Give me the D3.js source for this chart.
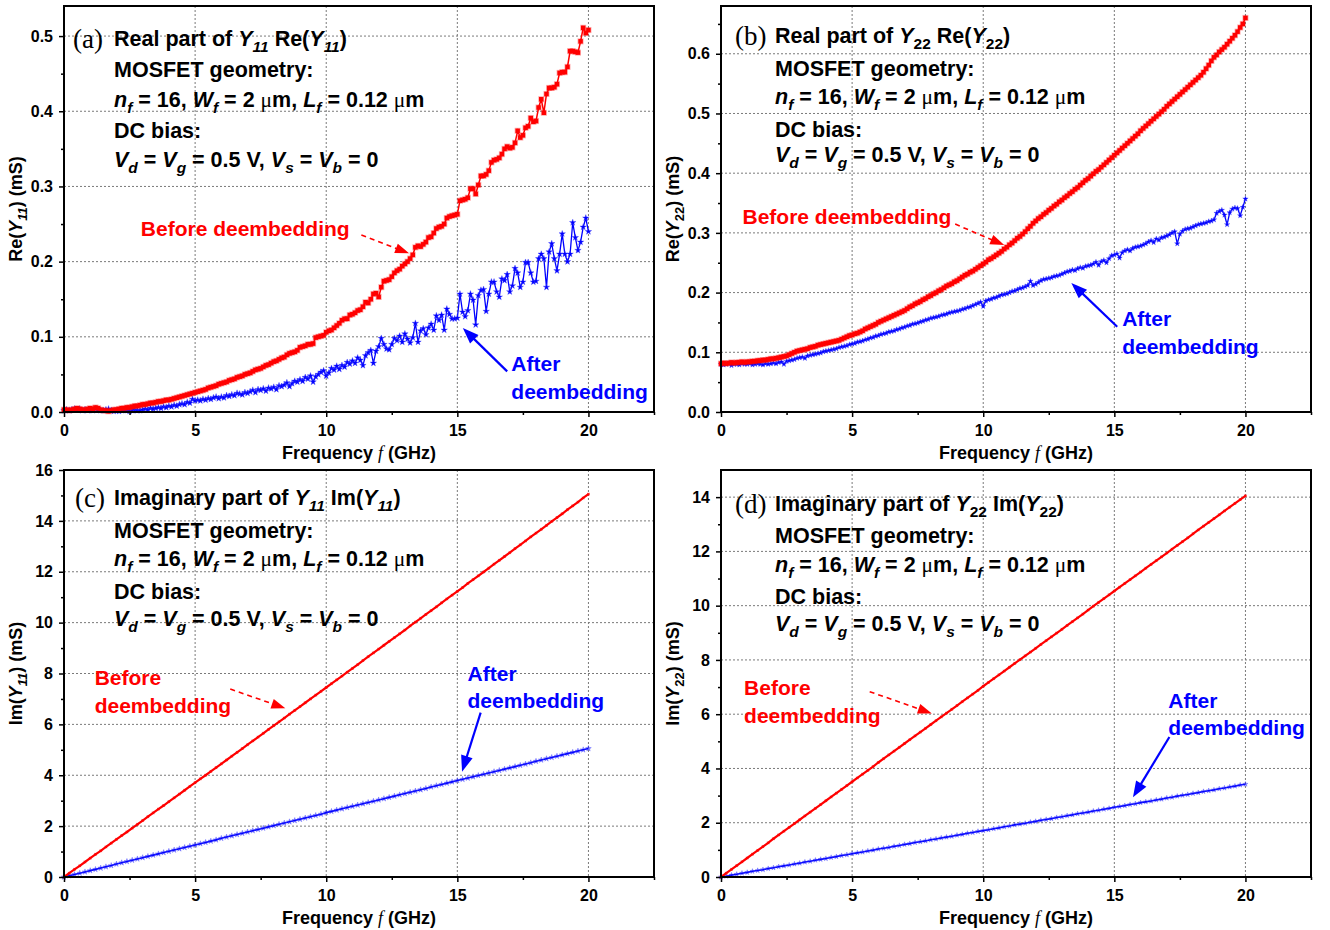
<!DOCTYPE html>
<html>
<head>
<meta charset="utf-8">
<script src="https://cdn.jsdelivr.net/npm/d3@7/dist/d3.min.js"></script>
<style>
  body { margin: 0; background: #fff; }
  svg text { font-family: "Liberation Sans", Arial, sans-serif; font-weight: bold; }
</style>
</head>
<body>
<div id="chart"></div>
<script>
// frequency sweeps (GHz)
var freq = d3.range(0, 201).map(function(i) { return i / 10; });   // 0.1 GHz steps
var freqIm = d3.range(0, 101).map(function(i) { return i / 5; });  // 0.2 GHz steps

var freqTicks = [0, 5, 10, 15, 20];
var freqMinor = [2.5, 7.5, 12.5, 17.5, 22.5];

// (a) Re(Y11), mS
var reY11Before = [
  0.003,0.003,0.002,0.003,0.004,0.005,0.004,0.003,0.003,0.004,
  0.005,0.004,0.006,0.005,0.003,0.002,0.002,0.001,0.002,0.003,
  0.003,0.004,0.005,0.005,0.006,0.006,0.007,0.008,0.008,0.009,
  0.010,0.010,0.011,0.012,0.012,0.013,0.014,0.014,0.015,0.016,
  0.016,0.017,0.018,0.019,0.020,0.021,0.022,0.023,0.024,0.025,
  0.026,0.027,0.028,0.029,0.030,0.032,0.033,0.034,0.035,0.037,
  0.038,0.039,0.040,0.042,0.043,0.044,0.046,0.047,0.048,0.050,
  0.051,0.052,0.054,0.056,0.057,0.058,0.060,0.062,0.063,0.065,
  0.067,0.068,0.070,0.072,0.073,0.076,0.078,0.079,0.080,0.082,
  0.086,0.087,0.088,0.090,0.090,0.091,0.099,0.100,0.101,0.102,
  0.106,0.108,0.109,0.112,0.115,0.118,0.122,0.124,0.124,0.129,
  0.130,0.132,0.135,0.136,0.140,0.146,0.145,0.150,0.157,0.158,
  0.153,0.166,0.174,0.175,0.176,0.180,0.185,0.188,0.190,0.194,
  0.197,0.200,0.204,0.209,0.219,0.221,0.220,0.223,0.226,0.232,
  0.233,0.238,0.244,0.246,0.247,0.250,0.258,0.260,0.261,0.262,
  0.263,0.281,0.282,0.283,0.285,0.297,0.297,0.290,0.302,0.314,
  0.314,0.316,0.321,0.332,0.335,0.336,0.338,0.343,0.350,0.353,
  0.351,0.352,0.358,0.374,0.365,0.368,0.378,0.380,0.391,0.386,
  0.387,0.405,0.416,0.398,0.423,0.431,0.431,0.432,0.436,0.451,
  0.452,0.452,0.459,0.480,0.480,0.479,0.478,0.493,0.511,0.504,
  0.508
];
var reY11After = [
  0.002,0.003,0.002,0.003,0.004,0.003,0.004,0.002,0.003,0.002,
  0.003,0.002,0.004,0.003,0.002,0.002,0.003,0.004,0.002,0.001,
  0.002,0.001,0.002,0.003,0.002,0.001,0.002,0.003,0.002,0.002,
  0.003,0.004,0.003,0.005,0.004,0.005,0.006,0.005,0.007,0.006,
  0.008,0.007,0.009,0.008,0.010,0.011,0.010,0.013,0.012,0.017,
  0.015,0.016,0.015,0.017,0.016,0.018,0.017,0.019,0.020,0.018,
  0.020,0.019,0.022,0.021,0.023,0.022,0.025,0.024,0.023,0.026,
  0.025,0.027,0.029,0.026,0.030,0.029,0.031,0.028,0.032,0.031,
  0.033,0.030,0.035,0.034,0.036,0.039,0.034,0.038,0.041,0.040,
  0.043,0.041,0.046,0.044,0.048,0.040,0.047,0.050,0.053,0.055,
  0.048,0.052,0.058,0.056,0.061,0.057,0.062,0.060,0.066,0.064,
  0.068,0.065,0.072,0.069,0.062,0.075,0.079,0.082,0.065,0.081,
  0.087,0.098,0.090,0.084,0.083,0.090,0.098,0.095,0.101,0.093,
  0.104,0.097,0.092,0.099,0.118,0.093,0.108,0.111,0.103,0.112,
  0.117,0.109,0.128,0.122,0.129,0.109,0.137,0.130,0.124,0.124,
  0.125,0.157,0.133,0.127,0.135,0.157,0.149,0.116,0.155,0.162,
  0.163,0.134,0.157,0.173,0.173,0.160,0.153,0.177,0.175,0.183,
  0.160,0.168,0.191,0.185,0.166,0.173,0.199,0.199,0.185,0.173,
  0.174,0.204,0.210,0.204,0.166,0.213,0.224,0.204,0.188,0.210,
  0.237,0.210,0.200,0.210,0.252,0.232,0.215,0.226,0.246,0.258,
  0.240
];

// (b) Re(Y22), mS
var reY22Before = [
  0.081,0.082,0.081,0.082,0.083,0.082,0.083,0.083,0.084,0.083,
  0.084,0.084,0.085,0.085,0.086,0.086,0.087,0.087,0.088,0.089,
  0.089,0.090,0.091,0.092,0.093,0.094,0.096,0.098,0.100,0.102,
  0.103,0.104,0.105,0.106,0.108,0.109,0.110,0.112,0.113,0.114,
  0.115,0.116,0.117,0.118,0.119,0.120,0.122,0.124,0.126,0.128,
  0.129,0.131,0.132,0.134,0.136,0.139,0.141,0.143,0.145,0.147,
  0.150,0.152,0.154,0.156,0.158,0.160,0.162,0.164,0.166,0.168,
  0.170,0.173,0.176,0.178,0.181,0.183,0.185,0.188,0.190,0.193,
  0.195,0.198,0.200,0.203,0.205,0.208,0.211,0.213,0.215,0.218,
  0.220,0.223,0.226,0.229,0.231,0.234,0.236,0.239,0.242,0.245,
  0.248,0.251,0.255,0.257,0.260,0.263,0.266,0.269,0.273,0.276,
  0.280,0.283,0.287,0.291,0.294,0.298,0.302,0.307,0.311,0.316,
  0.320,0.324,0.327,0.331,0.334,0.338,0.341,0.345,0.348,0.352,
  0.355,0.359,0.362,0.366,0.369,0.373,0.376,0.380,0.384,0.388,
  0.391,0.395,0.399,0.403,0.406,0.410,0.414,0.418,0.422,0.426,
  0.430,0.434,0.438,0.442,0.446,0.450,0.454,0.458,0.462,0.466,
  0.471,0.475,0.479,0.483,0.487,0.491,0.495,0.499,0.503,0.507,
  0.512,0.516,0.520,0.524,0.528,0.532,0.536,0.540,0.544,0.548,
  0.552,0.556,0.560,0.564,0.569,0.575,0.581,0.588,0.594,0.598,
  0.603,0.607,0.611,0.616,0.621,0.626,0.631,0.637,0.644,0.650,
  0.660
];
var reY22After = [
  0.080,0.079,0.080,0.081,0.078,0.080,0.080,0.079,0.081,0.080,
  0.080,0.081,0.079,0.080,0.081,0.080,0.079,0.081,0.080,0.081,
  0.082,0.081,0.083,0.084,0.080,0.085,0.086,0.087,0.088,0.090,
  0.091,0.092,0.090,0.094,0.095,0.096,0.097,0.098,0.099,0.101,
  0.102,0.103,0.104,0.105,0.106,0.108,0.109,0.110,0.111,0.113,
  0.114,0.115,0.117,0.118,0.119,0.121,0.122,0.124,0.125,0.127,
  0.128,0.130,0.131,0.132,0.134,0.135,0.136,0.138,0.139,0.141,
  0.142,0.144,0.145,0.147,0.148,0.149,0.151,0.152,0.154,0.155,
  0.157,0.158,0.159,0.160,0.162,0.163,0.164,0.166,0.167,0.168,
  0.169,0.170,0.172,0.173,0.175,0.176,0.178,0.180,0.182,0.184,
  0.177,0.186,0.188,0.189,0.191,0.192,0.194,0.196,0.197,0.198,
  0.200,0.202,0.203,0.205,0.207,0.208,0.210,0.212,0.219,0.212,
  0.214,0.217,0.220,0.222,0.223,0.224,0.225,0.227,0.228,0.229,
  0.231,0.233,0.235,0.236,0.238,0.237,0.240,0.242,0.241,0.244,
  0.245,0.246,0.248,0.251,0.246,0.252,0.254,0.250,0.257,0.262,
  0.263,0.265,0.258,0.267,0.270,0.272,0.270,0.274,0.276,0.277,
  0.278,0.280,0.282,0.285,0.287,0.284,0.290,0.288,0.292,0.293,
  0.295,0.297,0.300,0.302,0.282,0.298,0.303,0.306,0.307,0.308,
  0.310,0.312,0.314,0.315,0.316,0.317,0.319,0.320,0.322,0.333,
  0.336,0.338,0.330,0.314,0.334,0.340,0.342,0.341,0.329,0.343,
  0.357
];

// (c) Im(Y11), mS
var imY11Before = [
  0.00,0.15,0.30,0.44,0.59,0.74,0.89,1.03,1.18,1.33,
  1.48,1.63,1.77,1.92,2.07,2.22,2.37,2.52,2.67,2.81,
  2.96,3.11,3.26,3.41,3.56,3.71,3.86,4.00,4.15,4.30,
  4.45,4.60,4.75,4.90,5.05,5.20,5.35,5.50,5.65,5.80,
  5.95,6.10,6.25,6.40,6.55,6.70,6.85,7.00,7.15,7.30,
  7.45,7.60,7.75,7.90,8.05,8.20,8.35,8.51,8.66,8.81,
  8.96,9.11,9.26,9.41,9.56,9.71,9.87,10.02,10.17,10.32,
  10.47,10.62,10.78,10.93,11.08,11.23,11.38,11.54,11.69,11.84,
  11.99,12.14,12.30,12.45,12.60,12.75,12.91,13.06,13.21,13.37,
  13.52,13.67,13.82,13.98,14.13,14.28,14.44,14.59,14.74,14.90,
  15.05
];
var imY11After = [
  0.00,0.05,0.10,0.15,0.20,0.25,0.30,0.35,0.40,0.45,
  0.51,0.56,0.61,0.66,0.71,0.76,0.81,0.86,0.91,0.96,
  1.01,1.06,1.11,1.16,1.21,1.26,1.31,1.36,1.41,1.46,
  1.52,1.57,1.62,1.67,1.72,1.77,1.82,1.87,1.92,1.97,
  2.02,2.07,2.12,2.17,2.22,2.27,2.32,2.37,2.42,2.47,
  2.53,2.58,2.63,2.68,2.73,2.78,2.83,2.88,2.93,2.98,
  3.03,3.08,3.13,3.18,3.23,3.28,3.33,3.38,3.43,3.48,
  3.54,3.59,3.64,3.69,3.74,3.79,3.84,3.89,3.94,3.99,
  4.04,4.09,4.14,4.19,4.24,4.29,4.34,4.39,4.44,4.49,
  4.55,4.60,4.65,4.70,4.75,4.80,4.85,4.90,4.95,5.00,
  5.05
];

// (d) Im(Y22), mS
var imY22Before = [
  0.00,0.14,0.28,0.42,0.56,0.70,0.84,0.98,1.12,1.26,
  1.41,1.55,1.69,1.83,1.97,2.11,2.25,2.39,2.53,2.67,
  2.81,2.95,3.09,3.23,3.37,3.51,3.65,3.79,3.93,4.07,
  4.22,4.36,4.50,4.64,4.78,4.92,5.06,5.20,5.34,5.48,
  5.62,5.76,5.90,6.04,6.18,6.32,6.46,6.60,6.74,6.88,
  7.03,7.17,7.31,7.45,7.59,7.73,7.87,8.01,8.15,8.29,
  8.43,8.57,8.71,8.85,8.99,9.13,9.27,9.41,9.55,9.69,
  9.84,9.98,10.12,10.26,10.40,10.54,10.68,10.82,10.96,11.10,
  11.24,11.38,11.52,11.66,11.80,11.94,12.08,12.22,12.36,12.50,
  12.65,12.79,12.93,13.07,13.21,13.35,13.49,13.63,13.77,13.91,
  14.05
];
var imY22After = [
  0.00,0.03,0.07,0.10,0.14,0.17,0.21,0.24,0.27,0.31,
  0.34,0.38,0.41,0.44,0.48,0.51,0.55,0.58,0.62,0.65,
  0.68,0.72,0.75,0.79,0.82,0.86,0.89,0.92,0.96,0.99,
  1.03,1.06,1.09,1.13,1.16,1.20,1.23,1.27,1.30,1.33,
  1.37,1.40,1.44,1.47,1.50,1.54,1.57,1.61,1.64,1.68,
  1.71,1.74,1.78,1.81,1.85,1.88,1.92,1.95,1.98,2.02,
  2.05,2.09,2.12,2.15,2.19,2.22,2.26,2.29,2.33,2.36,
  2.39,2.43,2.46,2.50,2.53,2.57,2.60,2.63,2.67,2.70,
  2.74,2.77,2.80,2.84,2.87,2.91,2.94,2.98,3.01,3.04,
  3.08,3.11,3.15,3.18,3.21,3.25,3.28,3.32,3.35,3.39,
  3.42
];

// y tick labels
var reTicksA = [0, 0.1, 0.2, 0.3, 0.4, 0.5];
var reMinorA = [0.05, 0.15, 0.25, 0.35, 0.45];
var reTicksB = [0, 0.1, 0.2, 0.3, 0.4, 0.5, 0.6];
var reMinorB = [0.05, 0.15, 0.25, 0.35, 0.45, 0.55, 0.65];
var imTicksC = [0, 2, 4, 6, 8, 10, 12, 14, 16];
var imMinorC = [1, 3, 5, 7, 9, 11, 13, 15];
var imTicksD = [0, 2, 4, 6, 8, 10, 12, 14];
var imMinorD = [1, 3, 5, 7, 9, 11, 13];

var RED = "#ff0000", BLUE = "#0000ff";

function headerLines(sub, subStyle, kind) {
  var first = kind === "re"
    ? [["Real part of "], ["Y", "i"], [sub, subStyle], [" Re("], ["Y", "i"], [sub, subStyle], [")"]]
    : [["Imaginary part of "], ["Y", "i"], [sub, subStyle], [" Im("], ["Y", "i"], [sub, subStyle], [")"]];
  return [
    first,
    [["MOSFET geometry:"]],
    [["n", "i"], ["f", "is"], [" = 16, "], ["W", "i"], ["f", "is"], [" = 2 "], ["\u03bc", "m"], ["m, "],
     ["L", "i"], ["f", "is"], [" = 0.12 "], ["\u03bc", "m"], ["m"]],
    [["DC bias:"]],
    [["V", "i"], ["d", "is"], [" = "], ["V", "i"], ["g", "is"], [" = 0.5 V, "], ["V", "i"], ["s", "is"],
     [" = "], ["V", "i"], ["b", "is"], [" = 0"]]
  ];
}

var panels = [
  { tag: "(a)", left: 64, top: 6, width: 590, height: 406, yMax: 0.54,
    yTicks: reTicksA, yMinor: reMinorA, yFmt: d3.format(".1f"),
    fx: freq, before: reY11Before, after: reY11After, style: "re", starSize: 13,
    yLabel: [["Re("], ["Y", "i"], ["11", "is"], [") (mS)"]],
    header: headerLines("11", "is", "re"), tagX: 9, textX: 50, lines: [40, 71, 101, 132, 161],
    beforeLabel: { f: 2.93, v: 0.2347, text: ["Before deembedding"] },
    afterLabel: { f: 17.06, v: 0.0544, v2: 0.0172, text: ["After", "deembedding"] },
    redArrow: [[11.34, 0.2354], [13.16, 0.211]], blueArrow: [[16.9, 0.054], [15.21, 0.1117]] },
  { tag: "(b)", left: 721, top: 6, width: 590, height: 406, yMax: 0.68,
    yTicks: reTicksB, yMinor: reMinorB, yFmt: d3.format(".1f"),
    fx: freq, before: reY22Before, after: reY22After, style: "re", starSize: 9,
    yLabel: [["Re("], ["Y", "i"], ["22", "s"], [") (mS)"]],
    header: headerLines("22", "s", "re"), tagX: 14, textX: 54, lines: [37, 70, 98, 131, 156],
    beforeLabel: { f: 0.82, v: 0.3147, text: ["Before deembedding"] },
    afterLabel: { f: 15.3, v: 0.1436, v2: 0.0977, text: ["After", "deembedding"] },
    redArrow: [[8.93, 0.3147], [10.80, 0.2796]], blueArrow: [[15.11, 0.1427], [13.36, 0.2162]] },
  { tag: "(c)", left: 64, top: 470, width: 590, height: 407, yMax: 16,
    yTicks: imTicksC, yMinor: imMinorC, yFmt: d3.format("d"),
    fx: freqIm, before: imY11Before, after: imY11After, style: "im", starSize: 10,
    yLabel: [["Im("], ["Y", "i"], ["11", "is"], [") (mS)"]],
    header: headerLines("11", "is", "im"), tagX: 11, textX: 50, lines: [35, 68, 96, 129, 156],
    beforeLabel: { f: 1.17, v: 7.53, v2: 6.45, text: ["Before", "deembedding"] },
    afterLabel: { f: 15.39, v: 7.72, v2: 6.66, text: ["After", "deembedding"] },
    redArrow: [[6.34, 7.39], [8.44, 6.63]], blueArrow: [[15.89, 6.46], [15.18, 4.14]] },
  { tag: "(d)", left: 721, top: 470, width: 590, height: 407, yMax: 15,
    yTicks: imTicksD, yMinor: imMinorD, yFmt: d3.format("d"),
    fx: freqIm, before: imY22Before, after: imY22After, style: "im", starSize: 8,
    yLabel: [["Im("], ["Y", "i"], ["22", "s"], [") (mS)"]],
    header: headerLines("22", "s", "im"), tagX: 14, textX: 54, lines: [41, 73, 102, 134, 161],
    beforeLabel: { f: 0.88, v: 6.69, v2: 5.68, text: ["Before", "deembedding"] },
    afterLabel: { f: 17.06, v: 6.23, v2: 5.22, text: ["After", "deembedding"] },
    redArrow: [[5.67, 6.83], [8.04, 6.03]], blueArrow: [[17.10, 5.16], [15.71, 2.94]] }
];

var svg = d3.select("#chart").append("svg")
  .attr("width", 1330)
  .attr("height", 930)
  .style("background", "#fff");

// write a run of styled pieces into a text element
// i = italic, s = subscript, m = serif upright (mu), t = serif italic
function rich(textSel, parts, fs) {
  var off = 0;
  parts.forEach(function(p) {
    var st = p[1] || "";
    var sub = st.indexOf("s") >= 0;
    var target = sub ? fs * 0.3 : 0;
    var t = textSel.append("tspan").text(p[0]);
    if (target - off !== 0) t.attr("dy", target - off);
    off = target;
    if (sub) t.attr("font-size", fs * 0.72);
    if (st.indexOf("i") >= 0) t.attr("font-style", "italic");
    if (st.indexOf("m") >= 0) t.style("font-family", "'Liberation Serif', serif").style("font-weight", "normal");
    if (st.indexOf("t") >= 0) t.style("font-family", "'Liberation Serif', serif").style("font-weight", "normal").attr("font-style", "italic");
  });
}

function arrow(g, x, y, pts, color, dashed, headLen, headHalf) {
  var x0 = x(pts[0][0]), y0 = y(pts[0][1]), x1 = x(pts[1][0]), y1 = y(pts[1][1]);
  var dx = x1 - x0, dy = y1 - y0, len = Math.sqrt(dx * dx + dy * dy);
  var ux = dx / len, uy = dy / len, nx = -uy, ny = ux;
  var bx = x1 - ux * headLen, by = y1 - uy * headLen;
  g.append("line")
    .attr("x1", x0).attr("y1", y0)
    .attr("x2", x1 - ux * headLen * 0.7).attr("y2", y1 - uy * headLen * 0.7)
    .attr("stroke", color)
    .attr("stroke-width", dashed ? 1.6 : 2.2)
    .attr("stroke-dasharray", dashed ? "5,4" : null);
  g.append("path")
    .attr("d", "M" + x1 + "," + y1 + "L" + (bx + nx * headHalf) + "," + (by + ny * headHalf) +
               "L" + (bx - nx * headHalf) + "," + (by - ny * headHalf) + "Z")
    .attr("fill", color);
}

function drawPanel(p) {
  var g = svg.append("g")
    .attr("transform", "translate(" + p.left + "," + p.top + ")");

  var x = d3.scaleLinear().domain([0, 22.5]).range([0, p.width]);
  var y = d3.scaleLinear().domain([0, p.yMax]).range([p.height, 0]);

  // dotted grid at major ticks
  g.append("g").selectAll("line")
    .data(freqTicks.slice(1))
    .enter().append("line")
      .attr("x1", function(d) { return x(d); })
      .attr("x2", function(d) { return x(d); })
      .attr("y1", 0).attr("y2", p.height)
      .attr("stroke", "#7a7a7a").attr("stroke-width", 1).attr("stroke-dasharray", "2,2");
  g.append("g").selectAll("line")
    .data(p.yTicks.slice(1))
    .enter().append("line")
      .attr("x1", 0).attr("x2", p.width)
      .attr("y1", function(d) { return y(d); })
      .attr("y2", function(d) { return y(d); })
      .attr("stroke", "#7a7a7a").attr("stroke-width", 1).attr("stroke-dasharray", "2,2");

  var line = d3.line()
    .x(function(d, i) { return x(p.fx[i]); })
    .y(function(d) { return y(d); });

  var re = p.style === "re";

  // after deembedding (blue, stars)
  g.append("path")
    .attr("d", line(p.after))
    .attr("fill", "none")
    .attr("stroke", BLUE)
    .attr("stroke-width", re ? 1.3 : 1.6);
  var star = d3.symbol().type(d3.symbolStar).size(p.starSize);
  g.append("g").selectAll("path")
    .data(p.after)
    .enter().append("path")
      .attr("d", star)
      .attr("transform", function(d, i) { return "translate(" + x(p.fx[i]) + "," + y(d) + ")"; })
      .attr("fill", re ? BLUE : "rgba(0,0,255,0.45)")
      .attr("stroke", "rgba(60,60,255,0.35)")
      .attr("stroke-width", 1);

  // before deembedding (red, squares)
  g.append("path")
    .attr("d", line(p.before))
    .attr("fill", "none")
    .attr("stroke", RED)
    .attr("stroke-width", re ? 1.5 : 2.2);
  var sq = re ? 4.5 : 2;
  g.append("g").selectAll("rect")
    .data(p.before)
    .enter().append("rect")
      .attr("x", function(d, i) { return x(p.fx[i]) - sq / 2; })
      .attr("y", function(d) { return y(d) - sq / 2; })
      .attr("width", sq).attr("height", sq)
      .attr("fill", RED)
      .attr("stroke", "rgba(255,0,0,0.3)")
      .attr("stroke-width", re ? 1.6 : 1);

  // axes
  g.append("g")
    .attr("transform", "translate(0," + p.height + ")")
    .call(d3.axisBottom(x).tickValues(freqTicks).tickSize(5).tickPadding(8).tickFormat(d3.format("d")));
  g.append("g")
    .attr("transform", "translate(0," + p.height + ")")
    .call(d3.axisBottom(x).tickValues(freqMinor).tickSize(3).tickFormat(""));
  g.append("g")
    .call(d3.axisLeft(y).tickValues(p.yTicks).tickSize(5).tickPadding(6).tickFormat(p.yFmt));
  g.append("g")
    .call(d3.axisLeft(y).tickValues(p.yMinor).tickSize(3).tickFormat(""));

  g.selectAll(".domain").remove();
  g.selectAll(".tick line").attr("stroke", "#000").attr("stroke-width", 1.5);
  g.selectAll(".tick text")
    .attr("fill", "#000")
    .style("font-size", "16px")
    .style("font-family", "'Liberation Sans', Arial, sans-serif")
    .style("font-weight", "bold");

  // frame
  g.append("rect")
    .attr("x", 0).attr("y", 0)
    .attr("width", p.width).attr("height", p.height)
    .attr("fill", "none")
    .attr("stroke", "#000")
    .attr("stroke-width", 2);

  // axis titles
  var xt = g.append("text")
    .attr("x", p.width / 2).attr("y", p.height + 47)
    .attr("text-anchor", "middle")
    .style("font-size", "18px");
  rich(xt, [["Frequency "], ["f", "t"], [" (GHz)"]], 18);

  var yt = g.append("text")
    .attr("transform", "translate(-42," + (p.height / 2) + ") rotate(-90)")
    .attr("text-anchor", "middle")
    .style("font-size", "18px");
  rich(yt, p.yLabel, 18);

  // panel tag and header block
  g.append("text")
    .attr("x", p.tagX).attr("y", p.lines[0] + 2)
    .style("font-family", "'Liberation Serif', serif")
    .style("font-weight", "normal")
    .style("font-size", "27px")
    .text(p.tag);
  p.header.forEach(function(parts, k) {
    var t = g.append("text")
      .attr("x", p.textX).attr("y", p.lines[k])
      .style("font-size", "21.5px");
    rich(t, parts, 21.5);
  });

  // curve labels
  var bl = p.beforeLabel;
  bl.text.forEach(function(s, k) {
    g.append("text")
      .attr("x", x(bl.f)).attr("y", k === 0 ? y(bl.v) : y(bl.v2))
      .attr("fill", RED)
      .style("font-size", "21px")
      .text(s);
  });
  var al = p.afterLabel;
  al.text.forEach(function(s, k) {
    g.append("text")
      .attr("x", x(al.f)).attr("y", k === 0 ? y(al.v) : y(al.v2))
      .attr("fill", BLUE)
      .style("font-size", "21px")
      .text(s);
  });

  arrow(g, x, y, p.redArrow, RED, true, 14, 5);
  arrow(g, x, y, p.blueArrow, BLUE, false, 16, 6);
}

panels.forEach(drawPanel);
</script>
</body>
</html>
